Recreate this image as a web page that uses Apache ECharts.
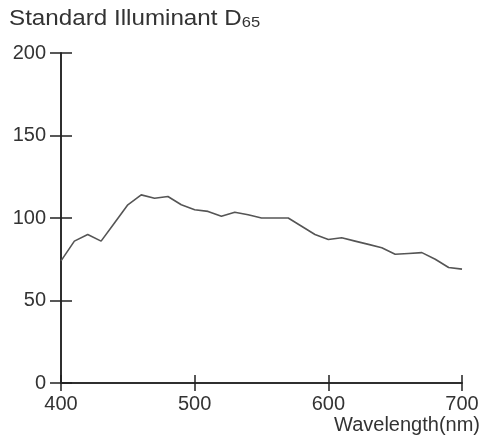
<!DOCTYPE html>
<html>
<head>
<meta charset="utf-8">
<script src="https://cdn.jsdelivr.net/npm/echarts@6/dist/echarts.min.js"></script>
<style>html,body{margin:0;padding:0;background:#fff}#c{width:482px;height:440px}</style>
</head>
<body>
<div id="c"></div>
<script>
var wavelengths = [400,410,420,430,440,450,460,470,480,490,500,510,520,530,540,550,560,570,580,590,600,610,620,630,640,650,660,670,680,690,700];
var intensity   = [74,86,90,86,97,108,114,112,113,108,105,104,101,103.5,102,100,100,100,95,90,87,88,86,84,82,78,78.5,79,75,70,69];
var yTicks = [0,50,100,150,200];
var xTicks = [400,500,600,700];
var titleMain = 'Standard Illuminant D';
var titleSub = '65';
var xName = 'Wavelength(nm)';

var chart = echarts.init(document.getElementById('c'), null, {renderer:'canvas'});
var axisCol = '#222';
var font = 'Liberation Sans, Arial, sans-serif';
function yAxis(inside, labels){
  return {type:'value', min:yTicks[0], max:yTicks[yTicks.length-1], interval:50, position:'left',
    axisLine:{show:true, lineStyle:{color:axisCol, width:1.5}},
    axisTick:{show:true, inside:inside, length:11, lineStyle:{color:axisCol, width:1.5}},
    axisLabel:{show:labels, color:'#333', fontSize:20, fontFamily:font, margin:15},
    splitLine:{show:false}};
}
function xAxis(inside, labels){
  return {type:'value', min:xTicks[0], max:xTicks[xTicks.length-1], interval:100, position:'bottom',
    axisLine:{show:true, onZero:false, lineStyle:{color:axisCol, width:1.5}},
    axisTick:{show:true, inside:inside, length:8, lineStyle:{color:axisCol, width:1.5}},
    axisLabel:{show:labels, color:'#333', fontSize:20, fontFamily:font, margin:11},
    splitLine:{show:false}};
}
chart.setOption({
  animation:false,
  backgroundColor:'#fff',
  grid:{left:61, right:20, top:53, bottom:57, containLabel:false},
  xAxis:[xAxis(false,true), xAxis(true,false)],
  yAxis:[yAxis(false,true), yAxis(true,false)],
  graphic:[
    {type:'text', x:9, y:8, scaleX:1.1, style:{text:'{a|'+titleMain+'}{b|'+titleSub+'}',
      rich:{a:{fontSize:22, fill:'#333', fontFamily:font, verticalAlign:'bottom'},
            b:{fontSize:15, fill:'#333', fontFamily:font, verticalAlign:'bottom'}}}},
    {type:'text', right:2, top:415, style:{text:xName, fontSize:20, fill:'#333', fontFamily:font}}
  ],
  series:[{type:'line', xAxisIndex:0, yAxisIndex:0, showSymbol:false,
    data:wavelengths.map(function(w,i){return [w,intensity[i]];}),
    lineStyle:{color:'#555', width:1.6}}]
});
</script>
</body>
</html>
